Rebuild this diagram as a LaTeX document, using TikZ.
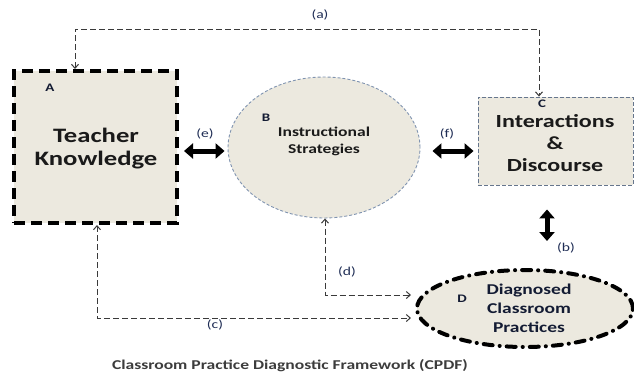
\documentclass[tikz,border=0pt]{standalone}
\usepackage{fontspec}
\setmainfont{Carlito}[FakeStretch=1.3]
\usetikzlibrary{arrows.meta,shapes.geometric}
\definecolor{fillc}{HTML}{ECE9DF}
\definecolor{bluegray}{HTML}{7F93B0}
\definecolor{conncol}{HTML}{3A3A3A}
\definecolor{labcol}{HTML}{1F2D55}
\definecolor{txtcol}{HTML}{1A1A1A}
\tikzset{
  boxA/.style={draw=black, fill=fillc, line width=4pt, dash pattern=on 11pt off 6pt, rectangle, inner sep=0pt},
  ellB/.style={draw=bluegray, fill=fillc, line width=0.9pt, dash pattern=on 3pt off 2pt, ellipse, inner sep=0pt},
  boxC/.style={draw=bluegray!80!black, fill=fillc, line width=0.9pt, dash pattern=on 4pt off 2pt, rectangle, inner sep=0pt},
  ellD/.style={draw=black, fill=fillc, line width=4pt, line cap=round, dash pattern=on 9pt off 7pt on 0.1pt off 7pt, ellipse, inner sep=0pt},
  bigtxt/.style={text=txtcol, align=center, font=\fontsize{18.5}{22}\selectfont\bfseries},
  midtxt/.style={text=txtcol, align=center, font=\fontsize{13.5}{17}\selectfont\bfseries},
  dtxt/.style={text=labcol!60!black, align=center, font=\fontsize{15}{19}\selectfont\bfseries},
  letter/.style={text=labcol!60!black, inner sep=1pt, font=\fontsize{11.5}{13}\selectfont\bfseries},
  lab/.style={text=labcol, font=\fontsize{12}{14}\selectfont},
  conn/.style={draw=conncol, line width=1pt, dash pattern=on 6pt off 3pt, {Straight Barb[length=4pt,width=7pt]}-{Straight Barb[length=4pt,width=7pt]}},
  blockarrow/.style={draw=black, line width=5pt, {Triangle[width=15pt,length=9pt]}-{Triangle[width=15pt,length=9pt]}}
}
\begin{document}
\begin{tikzpicture}[x=1pt,y=-1pt]
\useasboundingbox (0,0) rectangle (634,375);
% shapes
\node[boxA, minimum width=163pt, minimum height=152pt] (A) at (95.5,147) {};
\node[ellB, minimum width=192pt, minimum height=141pt] (B) at (324,147.5) {};
\node[boxC, minimum width=155pt, minimum height=88pt] (C) at (555.5,141) {};
\node[ellD, minimum width=216pt, minimum height=77pt] (D) at (525,308.5) {};
% texts
\node[bigtxt, font=\fontsize{20.5}{23}\selectfont\bfseries] (At) at (96,149) {Teacher\\Knowledge};
\node[midtxt] (Bt) at (324,141) {Instructional\\Strategies};
\node[bigtxt, inner sep=0pt] (Ct) at (555,143) {Interactions\\\&\\Discourse};
\node[dtxt] (Dt) at (529,308) {Diagnosed\\Classroom\\Practices};
\node[letter] (Al) at (50,88) {A};
\node[letter] (Bl) at (266,118) {B};
\node[letter] (Cl) at (542,104) {C};
\node[letter] (Dl) at (462,299) {D};
% coordinates
\coordinate (aL) at (75,29);
\coordinate (aR) at (539,29);
\coordinate (dC) at (325,295);
\coordinate (cC) at (97,318);
\coordinate (eY) at (0,151);
\coordinate (bX) at (547,0);
% dashed connectors
\draw[conn] (A.north -| aL) -- (aL) -- (aR) -- (C.north -| aR);
\draw[conn, shorten >=1pt] (B.south -| dC) -- (dC) -- ([xshift=-3pt]dC -| D.west);
\draw[conn, shorten >=1pt] (A.south -| cC) -- (cC) -- ([xshift=-3pt]cC -| D.west);
% block arrows
\draw[blockarrow, shorten <=5pt, shorten >=3pt] (A.east |- eY) -- (B.west |- eY);
\draw[blockarrow, shorten <=12pt, shorten >=4pt] (B.east |- eY) -- (C.west |- eY);
\draw[blockarrow, shorten <=24pt, shorten >=27pt] (C.south -| bX) -- (D.north -| bX);
% labels
\node[lab] (la) at (320,15) {(a)};
\node[lab] (le) at (205,134) {(e)};
\node[lab] (lf) at (447,134) {(f)};
\node[lab] (lb) at (566,248) {(b)};
\node[lab] (ld) at (347,272) {(d)};
\node[lab] (lc) at (215,325) {(c)};
% caption
\node[text=txtcol!85, font=\fontsize{13.5}{16}\selectfont\bfseries] (cap) at (290,366) {Classroom Practice Diagnostic Framework (CPDF)};
\end{tikzpicture}
\end{document}
